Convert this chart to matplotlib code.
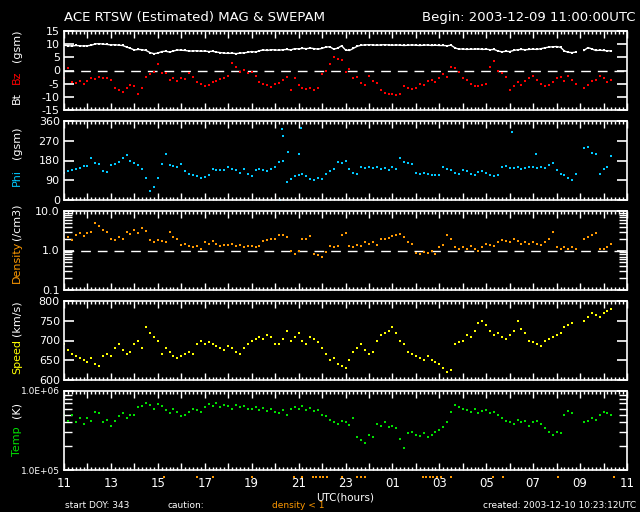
import numpy as np
import matplotlib.pyplot as plt
from matplotlib.ticker import MultipleLocator, FixedLocator, FuncFormatter, NullFormatter
from matplotlib.transforms import blended_transform_factory

# ================================
# Data: 10-minute samples from 2003-12-09 11:00 UTC, one row per hour
# ================================
nan = np.nan

bt = [
    9.6, 9.4, 9.3, 9.5, 9.4, 9.3,   # 11
    9.4, 9.6, 10.1, 10.2, 10.0, 9.9,
    9.7, 9.8, 9.6, 9.5, 8.9, 8.4,   # 13
    7.8, 8.0, 7.9, 7.6, 6.8, 6.4,
    6.6, 7.2, 7.3, 7.0, 7.4, 7.8,   # 15
    7.7, 7.6, 7.4, 7.4, 7.5, 7.3,
    7.4, 7.2, 7.3, 7.0, 6.8, 6.6,   # 17
    6.5, 6.6, 6.4, 6.6, 6.7, 6.9,
    7.2, 7.0, 7.5, 7.8, 7.6, 7.9,   # 19
    7.8, 7.7, 7.9, 8.0, 7.8, 8.3,
    8.2, 8.4, 8.3, 8.5, 8.3, 8.1,   # 21
    8.4, 8.9, 9.0, 8.1, 8.5, 9.4,
    7.8, 7.6, 8.4, 9.2, 9.6, 9.7,   # 23
    9.8, 9.7, 9.6, 9.7, 9.8, 9.7,
    9.6, 9.7, 9.6, 9.5, 9.6, 9.7,   # 01
    9.6, 9.5, 9.6, 9.7, 9.5, 9.6,
    9.5, 9.5, 9.4, 9.6, 8.6, 8.1,   # 03
    8.2, 8.0, 8.1, 8.1, 8.2, 8.0,
    8.1, 7.9, 8.0, 7.4, 7.1, 7.3,   # 05
    7.2, 7.6, 7.9, 8.0, 7.9, 8.0,
    8.1, 8.0, 8.3, 8.6, 8.9, 9.0,   # 07
    9.1, 8.8, 7.4, 6.9, 6.8, 7.0,
    nan, 7.6, 8.7, 8.2, 7.6, 7.7,   # 09
    7.6, 7.5, 7.4, nan, nan, nan,
]

bz = [
    -3.0, 1.0, -4.5, -4.6, -3.8, -5.0,
    -4.0, -2.8, -3.2, -2.5, -3.0, -2.8,
    -3.5, -6.5, -7.5, -8.3, -6.8, -5.5,
    -6.0, -8.8, -6.5, -2.5, -1.5, -0.5,
    2.5, -0.8, -1.0, -3.5, -3.0, -4.0,
    -2.8, -3.2, -1.0, -2.5, -4.2, -5.0,
    -5.8, -5.5, -4.5, -3.8, -3.2, -2.8,
    -2.0, 3.0, 1.5, -0.5, 0.2, -1.0,
    -0.5, -2.0, -4.5, -5.0, -5.5, -6.2,
    -5.0, -4.8, -3.5, -2.5, -7.5, -3.0,
    -5.5, -6.5, -7.2, -6.8, -7.5, -6.5,
    -1.5, 0.0, 2.5, 5.0, 4.2, 3.8,
    -0.5, 0.5, -3.0, -2.5, -4.8, -5.5,
    -2.0, -4.0, -4.8, -7.5, -8.5, -8.8,
    -9.0, -9.2, -8.8, -6.0, -6.5, -7.0,
    -6.5, -5.0, -5.5, -4.0, -3.5, -4.5,
    -3.0, -1.5, -2.5, 1.5, 1.0, -0.5,
    -3.0, -3.5, -5.0, -5.8, -6.0, -5.5,
    -5.0, 1.5, 3.5, 0.0, -1.0, -2.5,
    -7.5, -6.0, -4.5, -5.5, -4.0, -3.0,
    -2.0, -3.5, -5.0, -6.0, -5.5, -4.5,
    -3.0, -2.5, -4.0, -2.0, -3.5, -5.0,
    nan, -6.5, -5.5, -4.0, -3.5, -2.0,
    -3.0, -4.5, -3.5, nan, nan, nan,
]

phi = [
    125, 130, 138, 142, 145, 155,
    155, 190, 168, 162, 130, 128,
    160, 165, 175, 190, 205, 180,
    168, 160, 140, 100, 40, 60,
    100, 165, 210, 160, 155, 150,
    165, 130, 120, 115, 110, 100,
    105, 115, 140, 138, 135, 135,
    150, 140, 135, 125, 140, 120,
    110, 135, 140, 135, 130, 140,
    150, 175, 180, 80, 95, 110,
    115, 120, 110, 95, 90, 100,
    95, 120, 130, 140, 175, 170,
    180, 140, 125, 120, 150, 145,
    150, 145, 150, 140, 145, 135,
    150, 140, 190, 175, 170, 165,
    125, 120, 125, 120, 115, 112,
    115, 150, 140, 135, 125, 120,
    135, 130, 120, 115, 128, 130,
    125, 112, 110, 115, 150, 155,
    145, 145, 150, 140, 145, 150,
    150, 145, 150, 145, 160, 170,
    135, 120, 115, 100, 90, 120,
    nan, 235, 240, 215, 210, 120,
    140, 150, 200, nan, nan, nan,
]
# isolated Phi spikes
phi_spike_hours = [9.2, 9.3, 9.35, 9.55, 10.0, 10.1, 19.1, 20.1]
phi_spike_vals = [2, 322, 290, 220, 210, 327, 308, 210]

density = [
    1.9, 2.2, 1.8, 2.5, 2.8, 2.3,
    2.7, 3.0, 5.0, 4.2, 3.3, 3.0,
    2.0, 1.8, 2.2, 2.0, 3.0, 2.6,
    3.3, 2.8, 3.7, 3.2, 1.8, 1.6,
    1.8, 1.7, 1.6, 3.0, 2.2, 1.9,
    1.4, 1.5, 1.3, 1.2, 1.3, 1.1,
    1.6, 1.5, 1.7, 1.5, 1.3, 1.4,
    1.4, 1.5, 1.3, 1.4, 1.2, 1.3,
    1.3, 1.2, 1.3, 1.7, 1.8, 1.9,
    2.0, 2.4, 2.5, 2.2, 1.0, 0.8,
    1.0, 2.0, 1.9, 2.3, 0.8, 0.75,
    0.7, 0.9, 1.3, 1.2, 1.3, 2.5,
    2.8, 1.3, 1.2, 1.4, 1.3, 1.6,
    1.5, 1.6, 1.4, 2.0, 1.9, 2.1,
    2.3, 2.5, 2.6, 2.2, 1.6, 1.5,
    0.85, 0.8, 0.9, 0.85, 0.95, 0.8,
    1.2, 1.4, 2.5, 2.0, 1.2, 1.1,
    1.2, 1.1, 1.3, 1.1, 1.0, 1.2,
    1.5, 1.4, 1.3, 1.6, 1.8, 1.7,
    1.6, 1.9, 1.7, 1.5, 1.6, 1.5,
    1.6, 1.5, 1.4, 1.6, 2.0, 3.0,
    1.2, 1.1, 1.2, 1.1, 1.2, 1.1,
    nan, 2.0, 2.2, 2.5, 2.7, 1.1,
    1.1, 1.2, 1.5, nan, nan, nan,
]

speed = [
    690, 675, 665, 660, 655, 650,
    645, 655, 640, 635, 660, 665,
    660, 680, 690, 675, 665, 670,
    690, 700, 680, 735, 720, 710,
    700, 665, 680, 670, 660, 655,
    660, 665, 670, 665, 690, 700,
    690, 695, 690, 685, 680, 675,
    685, 680, 670, 665, 680, 690,
    700, 705, 710, 705, 715, 710,
    690, 690, 705, 725, 700, 710,
    720, 700, 690, 710, 705, 695,
    680, 665, 650, 655, 640, 635,
    630, 650, 670, 680, 690, 675,
    665, 670, 700, 715, 720, 725,
    735, 720, 700, 690, 670, 665,
    660, 655, 650, 660, 650, 645,
    640, 630, 620, 625, 690, 695,
    700, 715, 710, 725, 745, 750,
    740, 725, 715, 720, 710, 705,
    715, 725, 750, 730, 720, 700,
    695, 690, 685, 700, 705, 710,
    715, 720, 735, 740, 745, nan,
    nan, 750, 760, 770, 765, 760,
    770, 775, 780, nan, nan, nan,
]

temp = [  # units of 1e5 K
    4.9, 4.2, 5.0, 4.0, 4.5, 3.8,
    4.6, 4.2, 5.5, 5.2, 4.0, 4.3,
    3.6, 4.2, 4.8, 5.2, 4.6, 5.0,
    4.9, 6.2, 6.5, 7.0, 6.6, 6.0,
    6.8, 6.5, 5.7, 5.3, 6.0, 5.5,
    4.8, 5.0, 5.5, 6.0, 5.8, 5.4,
    6.2, 6.8, 6.5, 7.0, 6.3, 6.6,
    6.4, 6.0, 6.7, 6.2, 6.5, 5.9,
    6.0, 6.3, 5.8, 6.1, 5.6, 6.0,
    5.5, 5.2, 5.7, 5.0, 5.9, 6.2,
    6.0, 6.4, 5.8, 6.1, 5.6, 5.7,
    5.0, 4.8, 4.3, 4.1, 3.8, 4.2,
    4.0, 3.7, 4.5, 2.6, 2.4, 2.2,
    2.8, 2.6, 3.8, 3.6, 4.0, 3.5,
    3.6, 3.4, 2.5, 1.9, 2.9, 3.0,
    2.8, 2.7, 2.9, 2.6, 2.8, 3.0,
    3.2, 3.5, 4.0, 5.5, 6.7, 6.2,
    6.0, 5.8, 5.5, 6.0, 5.2, 5.6,
    5.8, 5.2, 5.5, 5.0, 4.6, 4.2,
    4.0, 3.8, 4.3, 4.0, 4.2, 3.6,
    4.0, 4.2, 3.8, 3.4, 3.0, 2.8,
    3.0, 2.9, 5.0, 5.6, 5.3, nan,
    nan, 4.0, 4.2, 4.5, 4.3, 5.0,
    5.4, 5.2, 5.0, nan, nan, nan,
]

# hours (since 11 UTC) flagged "density < 1"
caution_hours = [4.25, 5.65, 6.35, 8.0, 9.8, 10.15, 10.6, 10.75, 10.9, 11.05, 11.2,
                 11.85, 12.5, 12.65, 12.85, 15.3, 15.45, 15.6, 15.75, 15.9, 16.05,
                 16.5, 18.3, 18.7, 21.05, 23.45]

hour_labels = ["11", "13", "15", "17", "19", "21", "23", "01", "03", "05", "07", "09", "11"]

hours = np.arange(len(bt)) / 6.0
temp_k = np.array(temp) * 1e5

# ================================
# Figure layout (pixel based, 640x512)
# ================================
W, H = 640, 512
fig = plt.figure(figsize=(6.4, 5.12), dpi=100, facecolor="black")

def px_axes(top):
    return fig.add_axes([64 / W, 1 - (top + 79) / H, 563 / W, 79 / H], facecolor="black")

tops = [31, 121, 211, 301, 391]
axes = [px_axes(t) for t in tops]

for ax in axes:
    ax.set_xlim(0, 24)
    for sp in ax.spines.values():
        sp.set_color("white")
        sp.set_linewidth(1.2)
    ax.xaxis.set_major_locator(MultipleLocator(1))
    ax.xaxis.set_minor_locator(MultipleLocator(1 / 6))
    ax.tick_params(axis="x", which="major", direction="in", top=True, bottom=True,
                   length=5, width=1, colors="white", labelbottom=False)
    ax.tick_params(axis="x", which="minor", direction="in", top=True, bottom=True,
                   length=2.5, width=1, colors="white")
    ax.tick_params(axis="y", which="major", direction="in", left=True, right=True,
                   length=7.5, width=1.2, colors="white", labelsize=8, pad=3)
    ax.tick_params(axis="y", which="minor", direction="in", left=True, right=True,
                   length=6, width=1, colors="white")

dot = dict(ls="none", marker="s", ms=1.8, mew=0)
big = dict(ls="none", marker="s", ms=2.0, mew=0)

# Bt / Bz
ax = axes[0]
ax.axhline(0, color="white", lw=1, dashes=(7, 5))
ax.plot(hours, bt, color="white", lw=1.0)
ax.plot(hours, bt, color="white", **dot)
ax.plot(hours, bz, color="red", **big)
ax.set_ylim(-15, 15)
ax.set_yticks([-15, -10, -5, 0, 5, 10, 15], ["-15", "-10", "-5", "0", "5", "10", "15"])

# Phi
ax = axes[1]
ax.plot(hours, phi, color="#00c8ff", **big)
ax.plot(phi_spike_hours, phi_spike_vals, color="#00c8ff", **dot)
ax.set_ylim(0, 360)
ax.set_yticks([0, 90, 180, 270, 360])

# Density
ax = axes[2]
ax.set_yscale("log")
ax.axhline(1.0, color="white", lw=1, dashes=(7, 5))
ax.plot(hours, density, color="#ff9900", **big)
ax.set_ylim(0.1, 10)
ax.set_yticks([0.1, 1, 10], ["0.1", "1.0", "10.0"])
ax.yaxis.set_minor_locator(FixedLocator([m * d for d in (0.1, 1) for m in range(2, 10)]))
ax.yaxis.set_minor_formatter(NullFormatter())

# Speed
ax = axes[3]
ax.plot(hours, speed, color="yellow", **big)
ax.set_ylim(600, 800)
ax.set_yticks([600, 650, 700, 750, 800])

# Temperature
ax = axes[4]
ax.set_yscale("log")
ax.plot(hours, temp_k, color="#00e000", **big)
ax.set_ylim(1e5, 1e6)
ax.set_yticks([1e5, 1e6], ["1.0E+05", "1.0E+06"])
ax.yaxis.set_minor_locator(FixedLocator([m * 1e5 for m in range(2, 10)]))
ax.yaxis.set_minor_formatter(NullFormatter())
ax.tick_params(axis="y", which="major", labelsize=6.5)
ax.tick_params(axis="x", which="major", labelbottom=True, labelsize=8.5, pad=5)
ax.xaxis.set_major_formatter(FuncFormatter(
    lambda v, p: hour_labels[int(round(v)) // 2] if int(round(v)) % 2 == 0 else ""))

# caution marks (density < 1) just under the last panel
trans = blended_transform_factory(ax.transData, ax.transAxes)
ax.plot(caution_hours, [-0.09] * len(caution_hours), ls="none", marker="s", ms=2,
        mew=0, color="#ff9900", transform=trans, clip_on=False)

# ================================
# Text
# ================================
def ftext(x, y, s, **kw):
    kw.setdefault("color", "white")
    fig.text(x / W, 1 - y / H, s, **kw)

ftext(64, 18, "ACE RTSW (Estimated) MAG & SWEPAM", fontsize=9.5, va="center")
ftext(636, 18, "Begin: 2003-12-09 11:00:00UTC", fontsize=9.5, va="center", ha="right")
ftext(345, 497, "UTC(hours)", fontsize=7.5, va="center", ha="center")
ftext(65, 505, "start DOY: 343", fontsize=6.5, va="center")
ftext(168, 505, "caution:", fontsize=6.5, va="center")
ftext(272, 505, "density < 1", fontsize=6.5, va="center", color="#ff9900")
ftext(636, 505, "created: 2003-12-10 10:23:12UTC", fontsize=6.5, va="center", ha="right")

# multi-colour y labels
ylab = [
    ("Bt", "white", 98), ("Bz", "red", 77), ("(gsm)", "white", 46),
    ("Phi", "#00c8ff", 177), ("(gsm)", "white", 143),
    ("Density", "#ff9900", 262), ("(/cm3)", "white", 222),
    ("Speed", "yellow", 356), ("(km/s)", "white", 318),
    ("Temp", "#00e000", 441), ("(K)", "white", 410),
]
for s, c, y in ylab:
    ftext(17, y, s, color=c, fontsize=8, rotation=90, ha="center", va="center")

fig.savefig("out.png", dpi=100, facecolor="black")
